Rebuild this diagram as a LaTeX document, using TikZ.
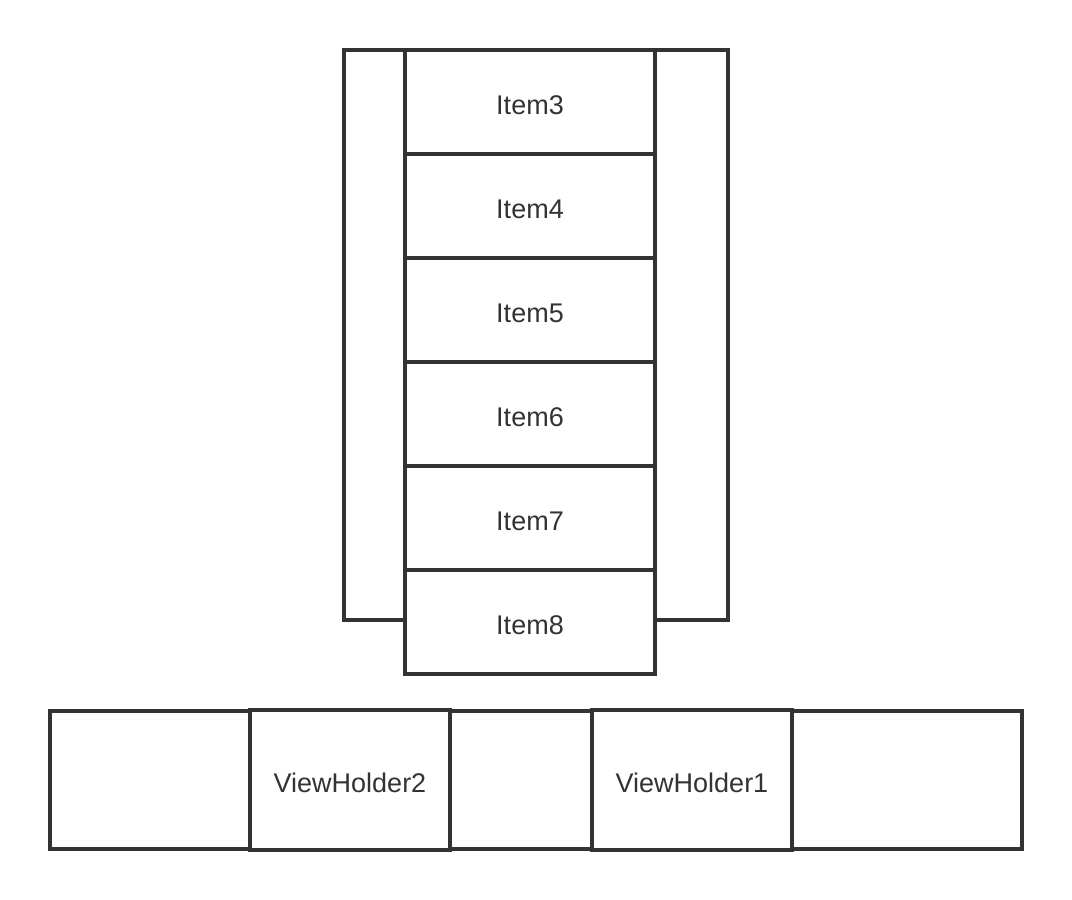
\documentclass[tikz,border=0pt]{standalone}
\usepackage{fontspec}
\setmainfont{Liberation Sans}
\definecolor{linegray}{HTML}{333333}
\tikzset{
  cell/.style={draw=linegray, fill=white, line width=4pt, inner sep=0pt,
    text=linegray, font=\fontsize{27}{32}\selectfont,
    text height=24pt, text depth=0pt},
  itembox/.style={cell, minimum width=250pt, minimum height=104pt},
  holderbox/.style={cell, minimum width=200pt, minimum height=140pt}
}
\begin{document}
\begin{tikzpicture}[x=1pt, y=-1pt]
\useasboundingbox (0,0) rectangle (1072,900);

% list frame behind the items
\draw[linegray, line width=4pt] (344,50) rectangle (728,620);

\foreach \i in {3,...,8}{
    \pgfmathsetmacro{\ypos}{102+104*(\i-3)}
    \node[itembox] (item\i) at (530,\ypos) {Item\i};
}

% row of view holders
\draw[linegray, line width=4pt] (50,711) rectangle (1022,849);
\node[holderbox] (holder2) at (350,780) {ViewHolder2};
\node[holderbox] (holder1) at (692,780) {ViewHolder1};

\end{tikzpicture}
\end{document}
